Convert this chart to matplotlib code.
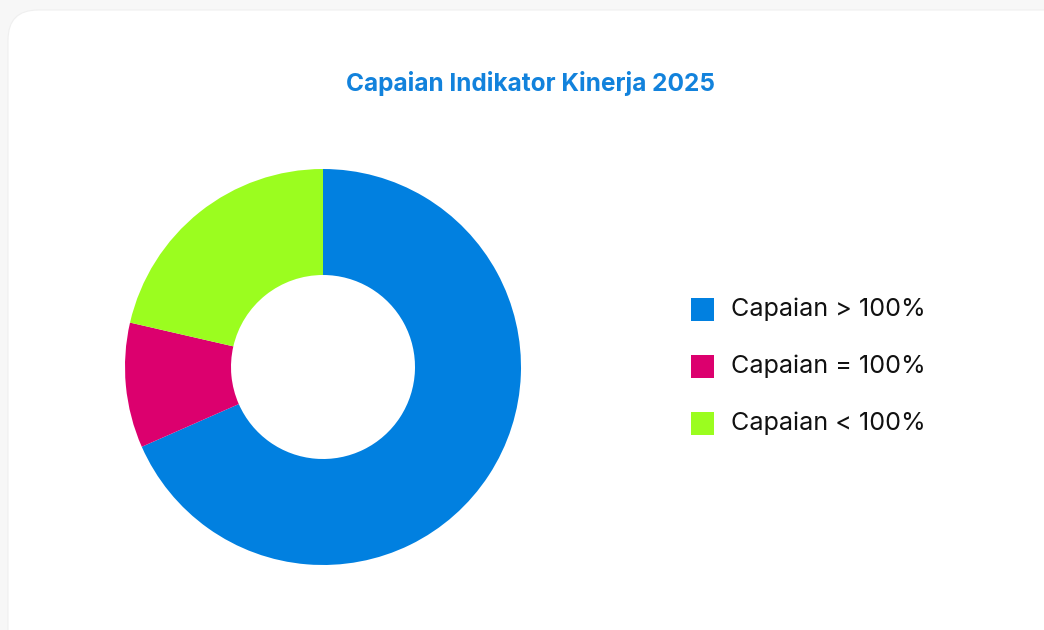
import matplotlib
matplotlib.use("Agg")
import matplotlib.pyplot as plt
from matplotlib.patches import FancyBboxPatch, Rectangle

categories = ["Capaian > 100%", "Capaian = 100%", "Capaian < 100%"]
values = [68.4, 10.2, 21.4]
colors = ["#0180E0", "#DC006E", "#9BFD1F"]
title = "Capaian Indikator Kinerja 2025"

W, H = 1044, 630
fig = plt.figure(figsize=(W / 100, H / 100), dpi=100)
fig.patch.set_facecolor("#f7f7f7")

# card background
bg = fig.add_axes([0, 0, 1, 1])
bg.set_xlim(0, W)
bg.set_ylim(H, 0)
bg.axis("off")
bg.add_patch(FancyBboxPatch((8, 10), W + 40, H + 40,
                            boxstyle="round,pad=0,rounding_size=30",
                            facecolor="white", edgecolor="#efefef", lw=0.8))

# donut
cx, cy, r = 323, 367, 198
ax = fig.add_axes([(cx - r) / W, 1 - (cy + r) / H, 2 * r / W, 2 * r / H])
ax.pie(values, colors=colors, startangle=90, counterclock=False,
       radius=1.0, wedgeprops=dict(width=1 - 92 / 198, edgecolor="none"))
ax.set_xlim(-1, 1)
ax.set_ylim(-1, 1)
ax.set_aspect("equal")
ax.axis("off")

fig.text(531 / W, 1 - 83 / H, title, ha="center", va="center",
         fontsize=17.6, fontweight="bold", color="#1282DC", family=["Inter", "DejaVu Sans"])

# legend
ys = [309, 366, 423]
for lab, col, y in zip(categories, colors, ys):
    bg.add_patch(Rectangle((691, y - 11.5), 23, 23, facecolor=col, edgecolor="none"))
    bg.text(731, y, lab, ha="left", va="center", fontsize=18.1, color="#111111",
            family=["Inter", "DejaVu Sans"])

fig.savefig("out.png", dpi=100, facecolor=fig.get_facecolor())
